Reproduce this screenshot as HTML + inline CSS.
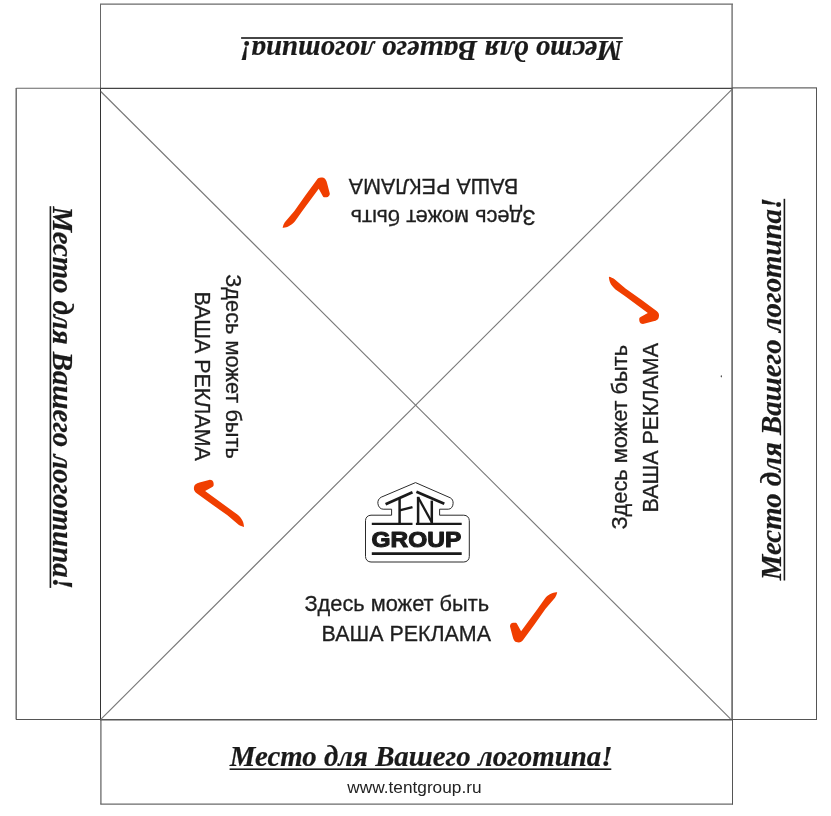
<!DOCTYPE html>
<html><head><meta charset="utf-8">
<style>
html,body{margin:0;padding:0;background:#fff;}
svg{display:block;will-change:transform;}
</style></head>
<body>
<svg width="831" height="816" viewBox="0 0 831 816">
<defs>
 <g id="ad">
  <text x="304.4" y="610.5" font-family="Liberation Sans" font-size="21.8" fill="#1e1e1e" stroke="#1e1e1e" stroke-width="0.3">Здесь может быть</text>
  <text x="321.6" y="641" font-family="Liberation Sans" font-size="21.45" fill="#1e1e1e" stroke="#1e1e1e" stroke-width="0.3">ВАША РЕКЛАМА</text>
  <path fill="#F03E00" d="M521.1,631.2 L537.5,608.9 L544.6,598.9 C546.5,596.5 549,594.4 552,593.3 C554,592.6 556,592.3 557.2,592.3 C556.8,594.3 556,596.2 555,597.7 L545.4,608.9 L534.3,624.8 L523.1,640 C522,641.6 520.5,642.4 518.8,642.4 C516.8,642.4 515.5,642 514.6,641 C513.6,639.8 513,638.3 512.7,636.8 L510,626.4 C510,624.8 510.8,623.5 512,623.1 C513.3,622.6 514.8,622.5 515.9,622.8 C516.5,623.1 516.9,623.5 517.1,624 Z"/>
 </g>
 <g id="logo">
  <text x="229.8" y="766.3" font-family="Liberation Serif" font-weight="bold" font-style="italic" font-size="28.85" fill="#1a1a1a" stroke="#1a1a1a" stroke-width="0.2">Место для Вашего логотипа!</text>
  <rect x="229.6" y="768.4" width="381.7" height="1.6" fill="#1a1a1a"/>
 </g>
</defs>
<g fill="none">
 <!-- top panel -->
 <path d="M100.5,88 V4.1" stroke="#666" stroke-width="1"/>
 <path d="M100,4.1 H733" stroke="#6a6a6a" stroke-width="1.3"/>
 <path d="M732.1,4 V88" stroke="#707070" stroke-width="1.4"/>
 <!-- left panel -->
 <path d="M16.3,88.3 H100" stroke="#666" stroke-width="1.1"/>
 <path d="M16.2,88 V719.6" stroke="#666" stroke-width="1.4"/>
 <path d="M16,719.5 H100" stroke="#555" stroke-width="1"/>
 <!-- right panel -->
 <path d="M732,87.9 H816.5" stroke="#666" stroke-width="1.1"/>
 <path d="M816.5,87.5 V719.6" stroke="#555" stroke-width="1"/>
 <path d="M732,719.5 H817" stroke="#555" stroke-width="1"/>
 <!-- bottom panel -->
 <path d="M100.9,719 V804.2" stroke="#6a6a6a" stroke-width="1.3"/>
 <path d="M100.3,804.2 H733" stroke="#6a6a6a" stroke-width="1.3"/>
 <path d="M732.5,719 V804.5" stroke="#555" stroke-width="1"/>
 <!-- main square -->
 <path d="M100.5,88 V719.5" stroke="#333" stroke-width="1"/>
 <path d="M100,88.4 H732.5" stroke="#444" stroke-width="1.1"/>
 <path d="M732.1,88 V719.5" stroke="#5a5a5a" stroke-width="1.5"/>
 <path d="M100,719.8 H733" stroke="#555" stroke-width="1.4"/>
 <!-- diagonals -->
 <path d="M100.8,91.5 L730.5,718.9" stroke="#787878" stroke-width="1.15"/>
 <path d="M732,89.4 L100.8,719.3" stroke="#787878" stroke-width="1.15"/>
</g>

<!-- serif logo texts -->
<use href="#logo"/>
<use href="#logo" transform="rotate(180 426.2 403.6)"/>
<use href="#logo" transform="rotate(90 421.5 398.1)"/>
<use href="#logo" transform="rotate(-90 412.65 397.45)"/>

<ellipse cx="721.3" cy="376.3" rx="0.6" ry="1.1" fill="#333"/>
<text x="347.3" y="793.2" font-family="Liberation Sans" font-size="17.25" fill="#222">www.tentgroup.ru</text>

<!-- ad groups -->
<use href="#ad"/>
<use href="#ad" transform="rotate(180 419.9 410)"/>
<use href="#ad" transform="rotate(90 433.25 403.05)"/>
<use href="#ad" transform="rotate(-90 425.3 408.7)"/>

<!-- TENT GROUP logo -->
<g>
 <path fill="#fff" stroke="#2a2a2a" stroke-width="1" d="M415.5,482.6 L381.2,497.2 C378.6,498.6 377.6,501 377.9,503.6 C378.3,506.8 380.4,509.2 383.2,509.2 L391.6,509.2 L391.6,515.2 L371,515.2 C367.8,515.2 365.5,517.5 365.5,520.7 L365.5,556.5 C365.5,559.7 367.8,562 371,562 L463.8,562 C467,562 469.3,559.7 469.3,556.5 L469.3,520.7 C469.3,517.5 467,515.2 463.8,515.2 L439.6,515.2 L439.6,509.2 L448.3,509.2 C451,509.2 452.9,506.8 453.1,503.6 C453.3,501 452.3,498.8 450.3,497.8 Z"/>
 <g stroke="#1a1a1a" fill="none">
  <path d="M385.6,504.3 L412.5,492.3" stroke-width="2.8"/>
  <path d="M416.4,491.8 L444.3,503.8" stroke-width="2.8"/>
  <path d="M399.6,498 V523" stroke-width="2.5"/>
  <path d="M399.6,510.4 L412.5,507.1" stroke-width="2.4"/>
  <path d="M418.1,496.8 V523" stroke-width="2.5"/>
  <path d="M418.1,497.3 L431.8,522.3" stroke-width="2.3"/>
  <path d="M431.8,500.6 V523" stroke-width="2.5"/>
  <path d="M371.8,523.8 H412.5 M415.9,523.8 H461.7" stroke-width="2.2"/>
  <path d="M371.8,553.6 H461.7" stroke-width="2.8"/>
 </g>
 <text x="371.6" y="546.8" font-family="Liberation Sans" font-weight="bold" font-size="22.6" fill="#1a1a1a" stroke="#1a1a1a" stroke-width="1.1" stroke-linejoin="round" textLength="89.6" lengthAdjust="spacingAndGlyphs">GROUP</text>
</g>
</svg>
</body></html>
